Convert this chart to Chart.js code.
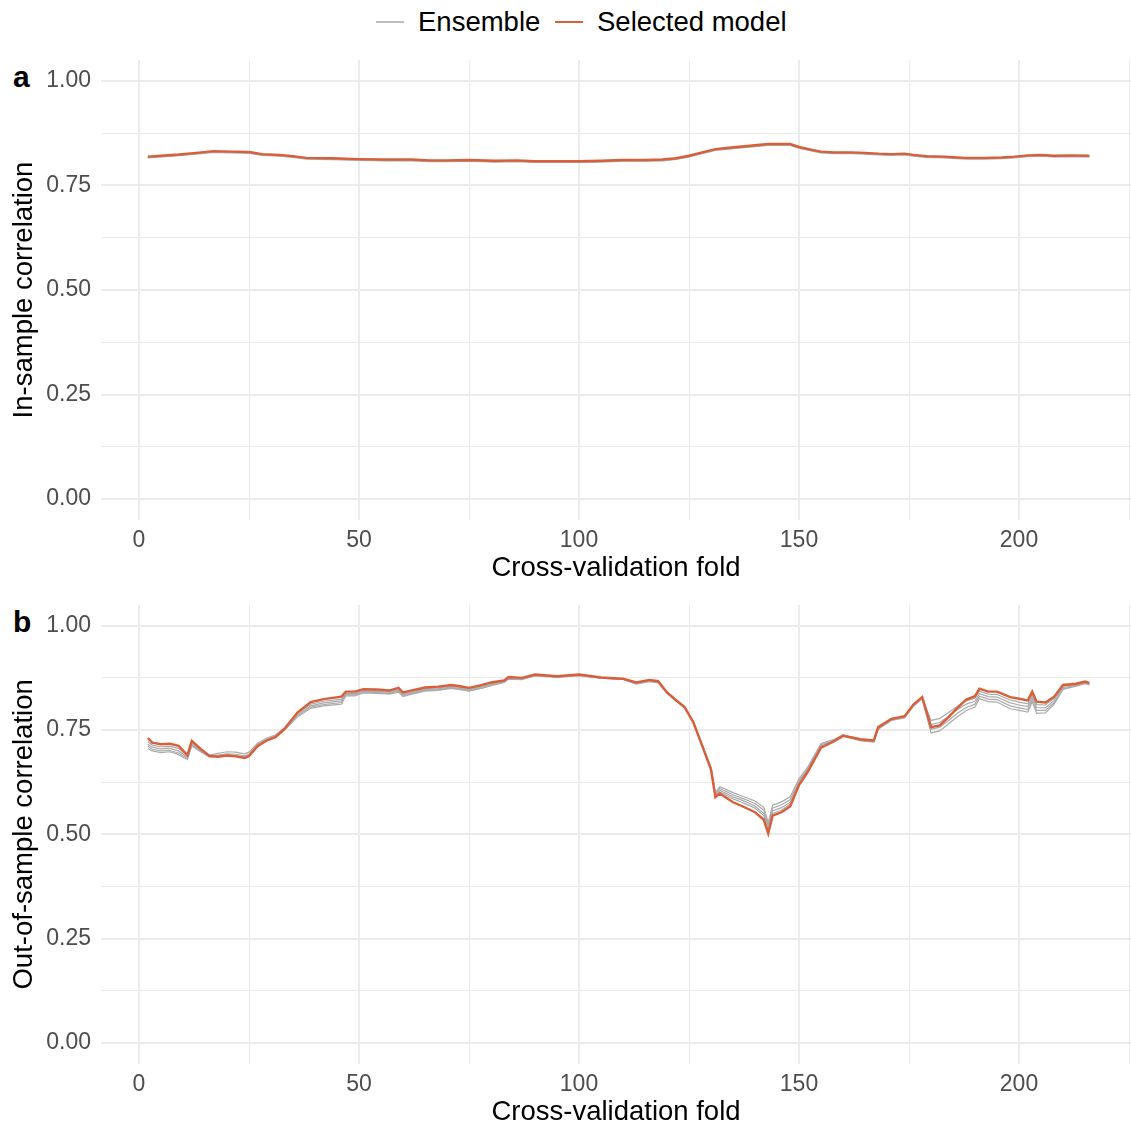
<!DOCTYPE html>
<html>
<head>
<meta charset="utf-8">
<script src="https://cdn.jsdelivr.net/npm/chart.js@4.4.1/dist/chart.umd.min.js"></script>
<style>
  html, body { margin: 0; padding: 0; background: #fff; overflow: hidden; }
  body { width: 1131px; height: 1126px; position: relative; font-family: 'Liberation Sans', Arial, sans-serif; }
  canvas { position: absolute; left: 0; }
  .key { position: absolute; height: 2px; top: 21px; width: 28px; }
  .lbl { position: absolute; top: 4px; font-size: 27.5px; line-height: 36px; color: #000; white-space: nowrap; }
  .tag { position: absolute; font-size: 30px; font-weight: bold; color: #000; line-height: 30px; }
</style>
</head>
<body>
<div class="key" style="left:376px;background:#bebebe"></div>
<div class="lbl" style="left:418px">Ensemble</div>
<div class="key" style="left:555px;background:#d95f3b"></div>
<div class="lbl" style="left:597px">Selected model</div>
<div class="tag" style="left:13px;top:62px">a</div>
<div class="tag" style="left:13px;top:607px">b</div>
<canvas id="chartIn" style="top:0px"></canvas>
<canvas id="chartOut" style="top:581px"></canvas>
<script>
// panel a: in-sample correlation
const inFolds = [2, 5, 9, 13, 17, 21, 25, 28, 32, 35, 38, 44, 50, 56, 62, 66, 70, 75, 81, 86,
    90, 95, 100, 105, 110, 115, 119, 122, 125, 128, 131, 134, 137, 140, 143, 145, 148, 150, 153, 155,
    158, 162, 165, 168, 171, 174, 176, 179, 183, 186, 188, 192, 196, 199, 202, 205, 208, 212, 216];
const inSelected = [.819, .821, .824, .828, .832, .831, .830, .825, .823, .820, .816, .815, .813, .812, .812,
    .810, .810, .811, .809, .810, .808, .808, .808, .809, .811, .811, .812, .815, .821, .829,
    .837, .840, .843, .846, .849, .849, .849, .842, .835, .831, .829, .829, .828, .826, .825,
    .826, .823, .820, .819, .817, .816, .816, .817, .819, .822, .823, .821, .822, .821];
const inEnsemble1 = [.817, .819, .822, .826, .830, .829, .828, .823, .821, .818, .814, .813, .811, .810, .810,
    .808, .808, .809, .807, .808, .806, .806, .806, .807, .809, .809, .810, .813, .819, .827,
    .835, .838, .841, .844, .847, .847, .847, .840, .833, .829, .827, .827, .826, .824, .823,
    .824, .821, .818, .817, .815, .814, .814, .815, .817, .820, .821, .819, .820, .819];
const inEnsemble2 = [.816, .818, .821, .825, .829, .828, .827, .822, .820, .817, .813, .812, .810, .809, .809,
    .807, .807, .808, .806, .807, .805, .805, .805, .806, .808, .808, .809, .812, .818, .826,
    .834, .837, .840, .843, .846, .846, .846, .839, .832, .828, .826, .826, .825, .823, .822,
    .823, .820, .817, .816, .814, .813, .813, .814, .816, .819, .820, .818, .819, .818];

// panel b: out-of-sample correlation
const outFolds = [2, 3, 5, 7, 9, 11, 12, 14, 16, 18, 20, 22, 24, 25, 27, 29, 31, 33, 36, 39,
    42, 46, 47, 49, 51, 54, 57, 59, 60, 62, 65, 68, 71, 73, 75, 78, 80, 83, 84, 87,
    90, 95, 100, 105, 110, 113, 116, 118, 120, 122, 124, 126, 128, 130, 131, 132, 135, 137, 140, 142,
    143, 144, 146, 148, 150, 152, 155, 158, 160, 162, 164, 167, 168, 171, 174, 176, 178, 180, 182, 184,
    186, 188, 190, 191, 193, 195, 198, 200, 202, 203, 204, 206, 208, 210, 213, 215, 216];
const outSelected = [.731, .720, .716, .717, .712, .690, .724, .705, .688, .686,
    .689, .687, .683, .688, .712, .725, .733, .752, .792, .817,
    .824, .830, .842, .842, .848, .847, .845, .851, .840, .845,
    .852, .854, .858, .855, .851, .858, .864, .869, .877, .875,
    .883, .879, .883, .876, .873, .864, .870, .867, .840, .822,
    .805, .768, .712, .655, .589, .598, .577, .568, .553, .535,
    .502, .545, .553, .567, .618, .650, .708, .723, .736, .732,
    .728, .725, .757, .777, .783, .811, .829, .757, .761, .781,
    .803, .823, .831, .849, .842, .842, .829, .825, .821, .842,
    .818, .816, .830, .858, .861, .866, .863];
const outEnsemble1 = [.722, .714, .710, .711, .706, .688, .720, .704, .690, .694,
    .698, .697, .693, .697, .719, .731, .738, .755, .790, .812,
    .819, .824, .838, .838, .845, .844, .842, .847, .836, .842,
    .849, .851, .855, .852, .848, .855, .861, .867, .875, .874,
    .882, .878, .882, .875, .872, .863, .869, .866, .841, .823,
    .806, .770, .715, .662, .600, .614, .600, .592, .580, .565,
    .528, .570, .578, .590, .633, .662, .718, .728, .739, .733,
    .727, .724, .755, .776, .782, .810, .828, .773, .778, .792,
    .807, .820, .826, .843, .836, .835, .822, .817, .813, .836,
    .811, .810, .826, .855, .859, .864, .861];
const outEnsemble2 = [.716, .709, .705, .706, .700, .685, .717, .702, .688, .690,
    .693, .692, .688, .692, .716, .728, .736, .753, .787, .808,
    .815, .820, .836, .836, .843, .842, .840, .845, .834, .840,
    .847, .849, .853, .850, .846, .853, .859, .866, .874, .873,
    .881, .877, .881, .875, .872, .862, .868, .865, .840, .822,
    .805, .769, .714, .660, .596, .610, .595, .587, .574, .558,
    .522, .563, .571, .583, .628, .658, .715, .726, .738, .732,
    .726, .723, .754, .775, .781, .809, .827, .763, .768, .783,
    .799, .812, .819, .837, .830, .829, .815, .810, .806, .830,
    .804, .803, .821, .852, .857, .863, .860];
const outEnsemble3 = [.711, .704, .700, .701, .695, .682, .714, .700, .686, .688,
    .690, .689, .685, .690, .714, .726, .734, .751, .784, .805,
    .811, .816, .834, .834, .841, .840, .838, .843, .832, .838,
    .845, .847, .851, .848, .844, .851, .857, .865, .873, .872,
    .880, .877, .881, .874, .871, .861, .867, .864, .839, .821,
    .804, .768, .713, .658, .593, .606, .590, .582, .568, .550,
    .516, .556, .564, .577, .624, .655, .712, .725, .737, .731,
    .725, .722, .753, .774, .780, .808, .826, .752, .757, .773,
    .790, .804, .812, .831, .824, .823, .808, .803, .799, .824,
    .797, .797, .816, .849, .856, .862, .859];
const outEnsemble4 = [.706, .700, .696, .698, .691, .679, .712, .698, .685, .686,
    .688, .687, .684, .688, .712, .724, .732, .749, .781, .802,
    .808, .812, .832, .832, .839, .838, .836, .841, .830, .836,
    .843, .845, .850, .847, .843, .850, .856, .864, .872, .871,
    .880, .876, .880, .874, .871, .860, .866, .863, .838, .820,
    .803, .767, .712, .657, .590, .602, .585, .577, .563, .545,
    .510, .550, .558, .572, .621, .653, .710, .724, .736, .730,
    .724, .721, .752, .773, .779, .807, .825, .743, .748, .765,
    .782, .797, .805, .825, .818, .817, .801, .797, .793, .818,
    .790, .791, .812, .847, .855, .861, .858];

const xTickLabels = [0, 50, 100, 150, 200];
const yTickLabels = [0, 0.25, 0.5, 0.75, 1];

const RED = '#d95f3b';
const GREY = '#ababab';
const GRID = '#ebebeb';
const FONT = "'Liberation Sans', Arial, sans-serif";
// canvas a little wider than the page: the x axis keeps a few px of right padding
const CANVAS_W = 1136;

function pts(xs, ys) {
    return xs.map((x, i) => ({ x: x, y: ys[i] }));
}

function isLabel(list, v) {
    return list.some(t => Math.abs(t - v) < 1e-6);
}

function makeChart(id, height, padTop, axisHeight, titlePadBottom, yTitle, folds, selected, ensembles) {
    const canvas = document.getElementById(id);
    canvas.width = CANVAS_W;
    canvas.height = height;
    canvas.style.width = CANVAS_W + 'px';
    canvas.style.height = height + 'px';

    const datasets = [{
        data: pts(folds, selected),
        borderColor: RED,
        borderWidth: 2.4
    }];
    ensembles.forEach(e => datasets.push({
        data: pts(folds, e),
        borderColor: GREY,
        borderWidth: 1.2
    }));

    return new Chart(canvas.getContext('2d'), {
        type: 'line',
        data: { datasets: datasets },
        options: {
            responsive: false,
            animation: false,
            devicePixelRatio: 1,
            events: [],
            layout: { padding: { top: padTop, left: 0, right: 0, bottom: 0 } },
            elements: { point: { radius: 0 }, line: { tension: 0 } },
            plugins: { legend: { display: false }, tooltip: { enabled: false } },
            scales: {
                x: {
                    type: 'linear',
                    min: -8.64,
                    max: 225.45,
                    afterFit: s => { s.height = axisHeight; },
                    border: { display: false },
                    grid: {
                        color: GRID,
                        drawTicks: false,
                        lineWidth: c => isLabel(xTickLabels, c.tick.value) ? 2 : 1
                    },
                    ticks: {
                        stepSize: 25,
                        includeBounds: false,
                        autoSkip: false,
                        maxRotation: 0,
                        padding: 7,
                        color: '#4d4d4d',
                        font: { family: FONT, size: 23 },
                        callback: v => isLabel(xTickLabels, v) ? String(v) : ''
                    },
                    title: {
                        display: true,
                        text: 'Cross-validation fold',
                        color: '#000',
                        font: { family: FONT, size: 27.5 },
                        padding: { top: 0, bottom: titlePadBottom }
                    }
                },
                y: {
                    min: -0.05,
                    max: 1.05,
                    afterFit: s => { s.width = 101; },
                    border: { display: false },
                    grid: {
                        color: GRID,
                        drawTicks: false,
                        lineWidth: c => isLabel(yTickLabels, c.tick.value) ? 2 : 1
                    },
                    ticks: {
                        stepSize: 0.125,
                        includeBounds: false,
                        autoSkip: false,
                        padding: 10,
                        color: '#4d4d4d',
                        font: { family: FONT, size: 23 },
                        callback: v => isLabel(yTickLabels, v) ? v.toFixed(2) : ''
                    },
                    title: {
                        display: true,
                        text: yTitle,
                        color: '#000',
                        font: { family: FONT, size: 27.5 },
                        padding: { top: 8, bottom: 0 }
                    }
                }
            }
        }
    });
}

makeChart('chartIn', 590, 60, 70, 5.5, 'In-sample correlation',
    inFolds, inSelected, [inEnsemble1, inEnsemble2]);
makeChart('chartOut', 569, 15, 86, 21.5, 'Out-of-sample correlation',
    outFolds, outSelected, [outEnsemble1, outEnsemble2, outEnsemble3, outEnsemble4]);
</script>
</body>
</html>
